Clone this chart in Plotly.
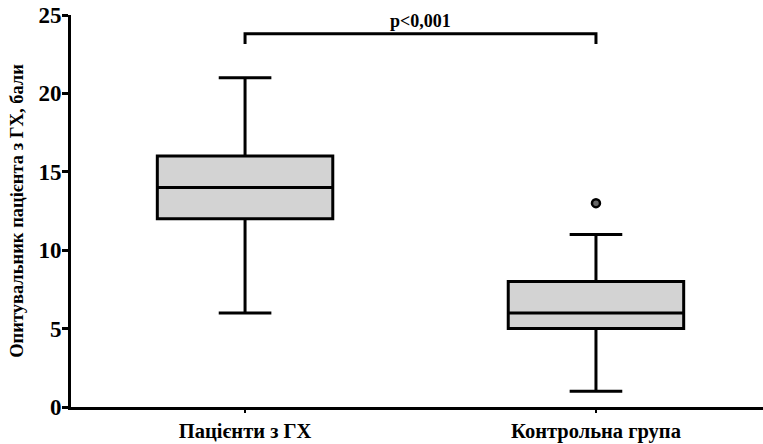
import plotly.graph_objects as go

categories = ["Пацієнти з ГХ", "Контрольна група"]
positions = [0, 1]
q1 = [12, 5]
median = [14, 6]
q3 = [16, 8]
lowerfence = [6, 1]
upperfence = [21, 11]
outlier_x = [1]
outlier_y = [13]
bracket_x = [0, 0, 1, 1]
bracket_y = [23.15, 23.8, 23.8, 23.15]
p_text = "p<0,001"
y_ticks = [0, 5, 10, 15, 20, 25]

FONT = "Liberation Serif"

def f(size):
    return dict(family=FONT, size=size, color="black", weight="bold")

fig = go.Figure()
fig.add_trace(go.Box(
    x=positions, q1=q1, median=median, q3=q3,
    lowerfence=lowerfence, upperfence=upperfence,
    fillcolor="#d3d3d3", line=dict(color="black", width=3),
    width=0.5, whiskerwidth=0.3, boxpoints=False, showlegend=False,
    hoverinfo="skip"))
fig.add_trace(go.Scatter(
    x=outlier_x, y=outlier_y, mode="markers",
    marker=dict(color="#666666", size=8, line=dict(color="black", width=2.5)),
    showlegend=False, hoverinfo="skip"))
fig.add_trace(go.Scatter(
    x=bracket_x, y=bracket_y, mode="lines",
    line=dict(color="black", width=3), showlegend=False, hoverinfo="skip"))

fig.add_annotation(x=sum(positions) / 2, y=max(bracket_y), text=p_text,
                   showarrow=False, yanchor="bottom", yshift=1, font=f(18))

fig.update_layout(
    width=763, height=444,
    margin=dict(l=71, r=0, t=15, b=37),
    plot_bgcolor="white", paper_bgcolor="white",
    font=f(17),
    xaxis=dict(range=[-0.496, 1.476], tickvals=positions, ticktext=categories,
               tickfont=f(20.5),
               showline=True, linecolor="black", linewidth=3,
               ticks="outside", ticklen=3, tickwidth=2, tickcolor="black",
               showgrid=False, zeroline=False),
    yaxis=dict(range=[0, 25], tickvals=y_ticks, ticktext=[str(v) for v in y_ticks],
               tickfont=f(23),
               ticklabelstandoff=-4,
               title=dict(text="Опитувальник пацієнта з ГХ, бали",
                          font=f(18.5), standoff=10),
               showline=True, linecolor="black", linewidth=3,
               ticks="outside", ticklen=6, tickwidth=3, tickcolor="black",
               showgrid=False, zeroline=False),
)

fig.write_html("out.html")
